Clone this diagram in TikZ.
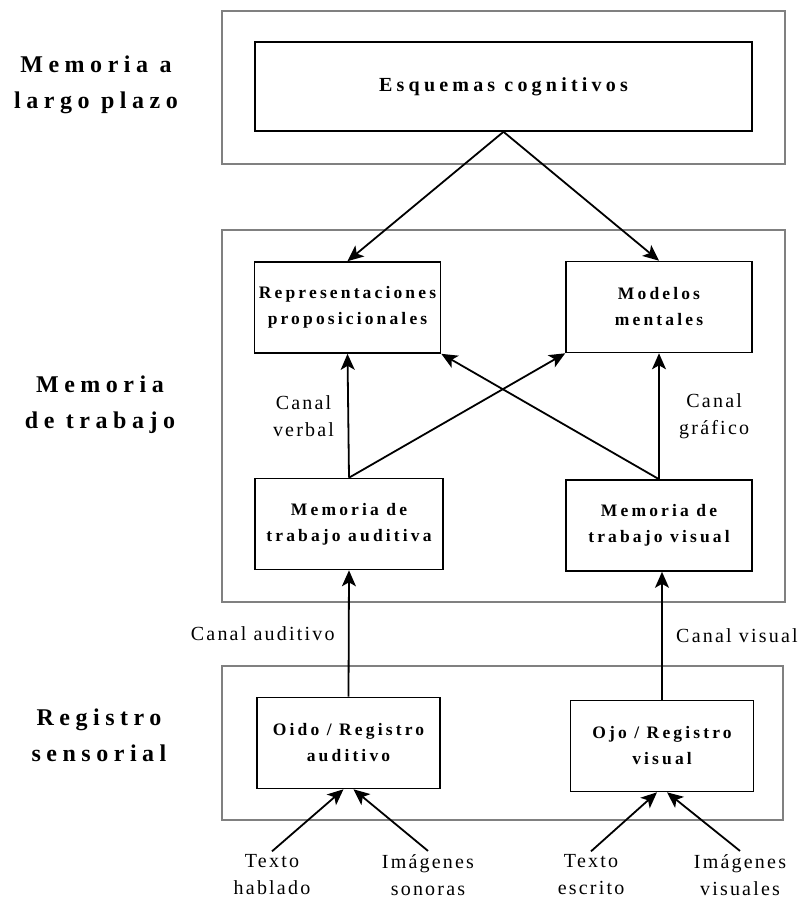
\documentclass[tikz,border=0pt]{standalone}
\usepackage{fontspec}
\setmainfont{Liberation Serif}
\usetikzlibrary{arrows.meta,positioning}

\begin{document}
\begin{tikzpicture}[x=1pt, y=-1pt,
    panel/.style={rectangle, draw=black!50, line width=1.5pt, inner sep=0pt},
    stage/.style={rectangle, draw, line width=1.6pt, align=center, minimum width=186pt, minimum height=91pt, inner sep=0pt, font=\bfseries\fontsize{17.5}{26}\selectfont\addfontfeature{LetterSpace=18}},
    level/.style={align=center, font=\bfseries\fontsize{24}{36}\selectfont\addfontfeature{LetterSpace=23}},
    chan/.style={align=center, font=\fontsize{20}{27}\selectfont\addfontfeature{LetterSpace=11}},
    arrow/.style={-{Stealth[length=16pt, width=14pt, inset=4pt]}, line width=1.8pt}
]
\useasboundingbox (0,0) rectangle (799,899);

% Frames of the three memory levels
\node[panel, minimum width=563pt, minimum height=153pt] (ltm) at (503.5,87.5) {};
\node[panel, minimum width=563pt, minimum height=372pt] (wm) at (503.5,416) {};
\node[panel, minimum width=561pt, minimum height=154pt] (sr) at (502.5,743) {};

% Level labels
\node[level] (ltmlabel) at (96,85) {Memoria a\\largo plazo};
\node[level] (wmlabel) at (100,405) {Memoria\\de trabajo};
\node[level] (srlabel) at (99,735) {Registro\\sensorial};

% Long term memory
\node[stage, minimum width=497pt, minimum height=89pt, font=\bfseries\fontsize{20}{25}\selectfont\addfontfeature{LetterSpace=21}] (esq) at (503.5,86.5) {Esquemas cognitivos};

% Working memory
\node[stage] (rep) at (347.5,307.5) {Representaciones\\proposicionales};
\node[stage] (mod) at (659,307) {Modelos\\mentales};
\node[stage, minimum width=188pt] (aud) at (349,524) {Memoria de\\trabajo auditiva};
\node[stage] (vis) at (659,525.5) {Memoria de\\trabajo visual};

% Sensory register
\node[stage, minimum width=183pt] (oido) at (348.5,743) {Oido / Registro\\auditivo};
\node[stage, minimum width=183pt] (ojo) at (662,746) {Ojo / Registro\\visual};

% Inputs
\node[chan] (hablado) at (272,875) {Texto\\hablado};
\node[chan] (sonoras) at (428,875) {Imágenes\\sonoras};
\node[chan] (escrito) at (591,875) {Texto\\escrito};
\node[chan] (visuales) at (740,875) {Imágenes\\visuales};

% Arrows
\draw[arrow] (esq.south) -- (rep.north);
\draw[arrow] (esq.south) -- (mod.north);
\draw[arrow] (aud.north) -- node[chan, left=10pt] {Canal\\verbal} (rep.south);
\draw[arrow] (vis.north) -- node[chan, right=16pt] {Canal\\gráfico} (mod.south);
\draw[arrow] (aud.north) -- (mod.south west);
\draw[arrow] (vis.north) -- (rep.south east);
\draw[arrow] (oido.north) -- node[chan, left=10pt] {Canal auditivo} (aud.south);
\draw[arrow] (ojo.north) -- node[chan, right=10pt] {Canal visual} (ojo.north |- vis.south);
\draw[arrow] (hablado.north) -- ([xshift=-5pt]oido.south);
\draw[arrow] (sonoras.north) -- ([xshift=5pt]oido.south);
\draw[arrow] (escrito.north) -- ([xshift=-5pt]ojo.south);
\draw[arrow] (visuales.north) -- ([xshift=5pt]ojo.south);

\end{tikzpicture}
\end{document}
